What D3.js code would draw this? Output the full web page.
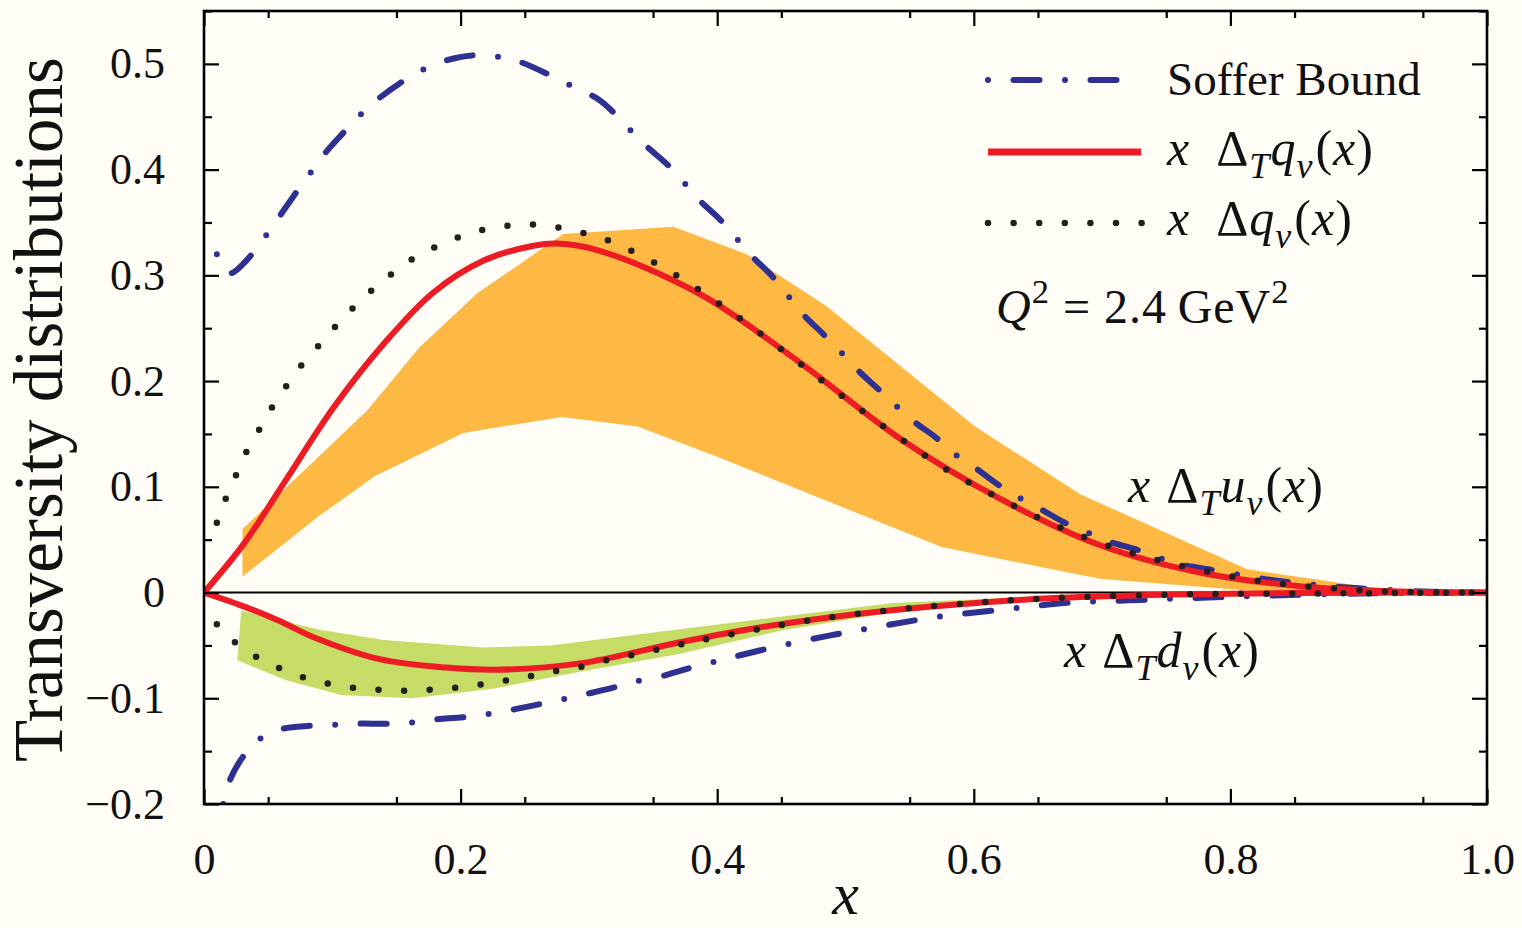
<!DOCTYPE html>
<html>
<head>
<meta charset="utf-8">
<script src="https://cdn.jsdelivr.net/npm/d3@7"></script>
<style>
  body { margin: 0; background: #fffdf6; }
  text { font-family: "Liberation Serif", "DejaVu Serif", serif; fill: #111; }
</style>
</head>
<body>
<svg id="chart" width="1522" height="928"></svg>
<script>
// ---- data: [x, value] ----
const uvBandUpper = [[0.030,0.060],[0.127,0.172],[0.168,0.232],[0.213,0.283],[0.280,0.339],[0.366,0.346],[0.423,0.320],[0.485,0.271],[0.601,0.157],[0.683,0.093],[0.813,0.022],[0.914,0.004],[1.0,0.0]];
const uvBandLower = [[0.030,0.015],[0.088,0.071],[0.133,0.110],[0.202,0.151],[0.279,0.166],[0.338,0.157],[0.401,0.128],[0.575,0.043],[0.698,0.013],[0.813,0.002],[0.914,0.0],[1.0,0.0]];

const dvBandUpper = [[0.029,-0.017],[0.089,-0.035],[0.140,-0.045],[0.218,-0.052],[0.270,-0.050],[0.355,-0.037],[0.537,-0.010],[0.667,-0.003],[0.75,0.0]];
const dvBandLower = [[0.026,-0.064],[0.064,-0.083],[0.107,-0.097],[0.162,-0.100],[0.225,-0.091],[0.293,-0.075],[0.371,-0.058],[0.450,-0.036],[0.550,-0.016],[0.667,-0.005],[0.75,0.0]];

const transUv = [[0,0],[0.031,0.046],[0.062,0.103],[0.101,0.175],[0.140,0.235],[0.179,0.284],[0.218,0.314],[0.257,0.328],[0.275,0.330],[0.309,0.323],[0.387,0.282],[0.465,0.217],[0.542,0.146],[0.620,0.089],[0.698,0.045],[0.776,0.019],[0.854,0.006],[0.932,0.001],[1.0,0]];
const transDv = [[0,0],[0.033,-0.014],[0.059,-0.027],[0.085,-0.042],[0.137,-0.063],[0.189,-0.071],[0.228,-0.073],[0.293,-0.067],[0.371,-0.047],[0.433,-0.033],[0.511,-0.020],[0.589,-0.011],[0.667,-0.005],[0.75,-0.002],[0.85,-0.0005],[1.0,0]];

const heliUv = [[0.010,0.066],[0.017,0.089],[0.025,0.111],[0.033,0.133],[0.043,0.154],[0.053,0.175],[0.064,0.195],[0.076,0.215],[0.089,0.233],[0.102,0.251],[0.116,0.269],[0.130,0.285],[0.146,0.301],[0.162,0.315],[0.179,0.326],[0.198,0.336],[0.217,0.343],[0.237,0.347],[0.256,0.348],[0.277,0.345],[0.296,0.340],[0.315,0.333],[0.351,0.312],[0.385,0.287],[0.418,0.259],[0.450,0.230],[0.482,0.200],[0.514,0.171],[0.546,0.143],[0.579,0.116],[0.614,0.093],[0.650,0.071],[0.687,0.052],[0.724,0.037],[0.763,0.025],[0.802,0.015],[0.842,0.008],[0.881,0.004],[0.920,0.001],[1.0,0]];
const heliDv = [[0.010,-0.030],[0.024,-0.047],[0.041,-0.061],[0.058,-0.071],[0.077,-0.080],[0.096,-0.086],[0.116,-0.090],[0.136,-0.092],[0.156,-0.093],[0.176,-0.092],[0.196,-0.090],[0.216,-0.087],[0.236,-0.083],[0.255,-0.079],[0.275,-0.074],[0.295,-0.070],[0.314,-0.064],[0.334,-0.059],[0.353,-0.054],[0.372,-0.049],[0.431,-0.035],[0.490,-0.023],[0.549,-0.015],[0.609,-0.009],[0.649,-0.006],[0.75,-0.002],[0.85,-0.001],[1.0,0]];

const sofferUv = [[0.010,0.320],[0.020,0.302],[0.036,0.318],[0.048,0.337],[0.059,0.356],[0.071,0.377],[0.083,0.397],[0.094,0.415],[0.108,0.434],[0.122,0.452],[0.136,0.467],[0.153,0.482],[0.170,0.494],[0.188,0.503],[0.209,0.508],[0.228,0.507],[0.246,0.502],[0.285,0.480],[0.309,0.465],[0.331,0.439],[0.345,0.422],[0.361,0.405],[0.374,0.388],[0.387,0.370],[0.402,0.353],[0.415,0.335],[0.428,0.317],[0.443,0.299],[0.455,0.281],[0.467,0.263],[0.483,0.244],[0.496,0.228],[0.509,0.211],[0.525,0.193],[0.539,0.177],[0.553,0.162],[0.570,0.147],[0.585,0.131],[0.601,0.118],[0.619,0.102],[0.635,0.090],[0.652,0.079],[0.671,0.066],[0.688,0.057],[0.706,0.048],[0.726,0.041],[0.744,0.033],[0.763,0.026],[0.783,0.022],[0.820,0.014],[0.860,0.008],[0.900,0.004],[0.950,0.001],[1.0,0]];
const sofferDv = [[0.015,-0.200],[0.020,-0.178],[0.030,-0.156],[0.043,-0.139],[0.061,-0.129],[0.083,-0.126],[0.101,-0.125],[0.120,-0.124],[0.143,-0.124],[0.161,-0.123],[0.180,-0.120],[0.202,-0.118],[0.221,-0.115],[0.240,-0.111],[0.260,-0.106],[0.280,-0.101],[0.298,-0.096],[0.319,-0.090],[0.337,-0.084],[0.357,-0.079],[0.371,-0.074],[0.396,-0.066],[0.454,-0.049],[0.513,-0.035],[0.572,-0.023],[0.631,-0.015],[0.670,-0.010],[0.730,-0.007],[0.800,-0.004],[0.900,-0.001],[1.0,0]];

const xMajor = [0, 0.2, 0.4, 0.6, 0.8, 1.0];
const xLabels = ["0", "0.2", "0.4", "0.6", "0.8", "1.0"];
const yMajor = [-0.2, -0.1, 0, 0.1, 0.2, 0.3, 0.4, 0.5];
const yLabels = ["\u22120.2", "\u22120.1", "0", "0.1", "0.2", "0.3", "0.4", "0.5"];
const xMinor = d3.range(0.05, 1.0, 0.1);
const yMinor = d3.range(-0.15, 0.56, 0.1);

// ---- layout ----
const W = 1522, H = 928;
const margin = {left: 204, top: 11, right: 35, bottom: 124};
const svg = d3.select("#chart");
const x = d3.scaleLinear().domain([0, 1]).range([margin.left, W - margin.right]);
const y = d3.scaleLinear().domain([-0.2, 0.55]).range([H - margin.bottom, margin.top]);

const BLUE = "#2e3192", RED = "#ed1c24", DOT = "#231f20";
const sofferDash = "0 25.5 26 25.5";
const dotDash = "0 25.6";

svg.append("rect").attr("width", W).attr("height", H).attr("fill", "#fffdf6");

svg.append("defs").append("clipPath").attr("id", "plotClip")
  .append("rect")
  .attr("x", x(0)).attr("y", y(0.55))
  .attr("width", x(1) - x(0)).attr("height", y(-0.2) - y(0.55));

const plot = svg.append("g").attr("clip-path", "url(#plotClip)");

const straight = d3.line().x(d => x(d[0])).y(d => y(d[1]));
const smooth = d3.line().x(d => x(d[0])).y(d => y(d[1])).curve(d3.curveCatmullRom.alpha(0.5));

// bands
plot.append("path")
  .attr("d", straight(uvBandUpper.concat(uvBandLower.slice().reverse())) + "Z")
  .attr("fill", "#fdb943");
plot.append("path")
  .attr("d", straight(dvBandUpper.concat(dvBandLower.slice().reverse())) + "Z")
  .attr("fill", "#c5dc67");

// zero line
plot.append("line")
  .attr("x1", x(0)).attr("x2", x(1)).attr("y1", y(0)).attr("y2", y(0))
  .attr("stroke", "#000").attr("stroke-width", 2);

// curves
[sofferUv, sofferDv].forEach(d => {
  plot.append("path").attr("d", smooth(d))
    .attr("fill", "none").attr("stroke", BLUE).attr("stroke-width", 6)
    .attr("stroke-linecap", "round").attr("stroke-dasharray", sofferDash);
});
[transUv, transDv].forEach(d => {
  plot.append("path").attr("d", smooth(d))
    .attr("fill", "none").attr("stroke", RED).attr("stroke-width", 6);
});
[heliUv, heliDv].forEach(d => {
  plot.append("path").attr("d", smooth(d))
    .attr("fill", "none").attr("stroke", DOT).attr("stroke-width", 6.5)
    .attr("stroke-linecap", "round").attr("stroke-dasharray", dotDash);
});

// ---- axes: inward ticks on all four sides ----
const tickFont = 44;
function styleAxis(g) {
  g.select(".domain").remove();
  g.selectAll("line").attr("stroke", "#000").attr("stroke-width", 2.2);
  g.selectAll("text").attr("font-size", tickFont).attr("fill", "#111")
    .style("font-family", "'Liberation Serif', serif");
}
const xFmt = v => xLabels[xMajor.findIndex(m => Math.abs(m - v) < 1e-9)];
const yFmt = v => yLabels[yMajor.findIndex(m => Math.abs(m - v) < 1e-9)];

svg.append("g").attr("transform", `translate(0,${y(-0.2)})`)
  .call(d3.axisBottom(x).tickValues(xMajor).tickFormat(xFmt).tickSize(-15).tickPadding(39)).call(styleAxis);
svg.append("g").attr("transform", `translate(0,${y(-0.2)})`)
  .call(d3.axisBottom(x).tickValues(xMinor).tickFormat("").tickSize(-7)).call(styleAxis);
svg.append("g").attr("transform", `translate(0,${y(0.55)})`)
  .call(d3.axisTop(x).tickValues(xMajor).tickFormat("").tickSize(-15)).call(styleAxis);
svg.append("g").attr("transform", `translate(0,${y(0.55)})`)
  .call(d3.axisTop(x).tickValues(xMinor).tickFormat("").tickSize(-7)).call(styleAxis);

svg.append("g").attr("transform", `translate(${x(0)},0)`)
  .call(d3.axisLeft(y).tickValues(yMajor).tickFormat(yFmt).tickSize(-15).tickPadding(39)).call(styleAxis);
svg.append("g").attr("transform", `translate(${x(0)},0)`)
  .call(d3.axisLeft(y).tickValues(yMinor).tickFormat("").tickSize(-8)).call(styleAxis);
svg.append("g").attr("transform", `translate(${x(1)},0)`)
  .call(d3.axisRight(y).tickValues(yMajor).tickFormat("").tickSize(-15)).call(styleAxis);
svg.append("g").attr("transform", `translate(${x(1)},0)`)
  .call(d3.axisRight(y).tickValues(yMinor).tickFormat("").tickSize(-8)).call(styleAxis);

// frame
svg.append("rect")
  .attr("x", x(0)).attr("y", y(0.55))
  .attr("width", x(1) - x(0)).attr("height", y(-0.2) - y(0.55))
  .attr("fill", "none").attr("stroke", "#000").attr("stroke-width", 2.6);

// axis titles
svg.append("text")
  .attr("transform", `translate(62,${(y(0.55) + y(-0.2)) / 2 + 2}) rotate(-90)`)
  .attr("text-anchor", "middle").attr("font-size", 69)
  .text("Transversity distributions");
svg.append("text")
  .attr("x", x(0.5)).attr("y", 914).attr("text-anchor", "middle")
  .attr("font-size", 60).attr("font-style", "italic")
  .text("x");

// ---- math text helper ----
function mathText(px, py, size, parts) {
  const t = svg.append("text").attr("x", px).attr("y", py).attr("font-size", size)
    .attr("letter-spacing", 1);
  let shift = 0;
  parts.forEach(p => {
    const target = p.sub ? 0.26 * size : p.sup ? -0.42 * size : 0;
    t.append("tspan")
      .attr("dy", target - shift)
      .attr("dx", p.dx || 0)
      .attr("font-size", (p.sub || p.sup) ? size * 0.72 : size)
      .attr("font-style", p.i ? "italic" : "normal")
      .text(p.t);
    shift = target;
  });
  return t;
}
const curveLabel = (q) => [
  {t: "x", i: true}, {t: "\u2009\u0394", dx: 4}, {t: "T", i: true, sub: true},
  {t: q, i: true}, {t: "v", i: true, sub: true}, {t: "(", dx: 2}, {t: "x", i: true}, {t: ")"}
];

// ---- legend ----
const legX0 = 988, legX1 = 1141, legText = 1167, legSize = 47, mathSize = 50;
svg.append("line").attr("x1", legX0).attr("x2", legX1).attr("y1", 80).attr("y2", 80)
  .attr("stroke", BLUE).attr("stroke-width", 6).attr("stroke-linecap", "round")
  .attr("stroke-dasharray", sofferDash);
svg.append("text").attr("x", legText).attr("y", 95).attr("font-size", legSize).text("Soffer Bound");

svg.append("line").attr("x1", legX0).attr("x2", legX1).attr("y1", 152).attr("y2", 152)
  .attr("stroke", RED).attr("stroke-width", 7);
mathText(legText, 165, mathSize, [
  {t: "x", i: true}, {t: "\u2002\u0394"}, {t: "T", i: true, sub: true},
  {t: "q", i: true}, {t: "v", i: true, sub: true}, {t: "(", dx: 2}, {t: "x", i: true}, {t: ")"}
]);

svg.append("line").attr("x1", legX0).attr("x2", legX1 + 1).attr("y1", 223).attr("y2", 223)
  .attr("stroke", DOT).attr("stroke-width", 6.5).attr("stroke-linecap", "round")
  .attr("stroke-dasharray", dotDash);
mathText(legText, 235, mathSize, [
  {t: "x", i: true}, {t: "\u2002\u0394"},
  {t: "q", i: true}, {t: "v", i: true, sub: true}, {t: "(", dx: 2}, {t: "x", i: true}, {t: ")"}
]);

mathText(996, 323, 48, [
  {t: "Q", i: true}, {t: "2", sup: true}, {t: " = 2.4\u2009GeV"}, {t: "2", sup: true}
]);

// curve labels
mathText(1128, 502, mathSize, curveLabel("u"));
mathText(1064, 667, mathSize, curveLabel("d"));
</script>
</body>
</html>
